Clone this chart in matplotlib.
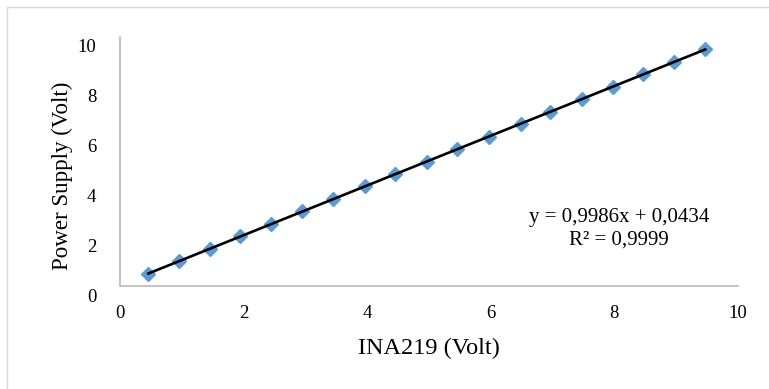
import numpy as np
import matplotlib
matplotlib.use("Agg")
import matplotlib.pyplot as plt
from matplotlib.transforms import ScaledTranslation
from matplotlib.patches import Rectangle

# Data
ina219 = [0.46, 0.96, 1.46, 1.94, 2.45, 2.95, 3.45, 3.96, 4.45, 4.97,
          5.46, 5.97, 6.49, 6.96, 7.47, 7.97, 8.47, 8.96, 9.47]
power_supply = [0.5, 1.0, 1.5, 2.0, 2.5, 3.0, 3.5, 4.0, 4.5, 5.0,
                5.5, 6.0, 6.5, 7.0, 7.5, 8.0, 8.5, 9.0, 9.5]
slope = 0.9986
intercept = 0.0434
r_squared = 0.9999
x_ticks = [0, 2, 4, 6, 8, 10]
y_ticks = [0, 2, 4, 6, 8, 10]
x_label = "INA219 (Volt)"
y_label = "Power Supply (Volt)"
eq_text = "y = 0,9986x + 0,0434\nR² = 0,9999"

plt.rcParams['font.family'] = ['Liberation Serif', 'DejaVu Serif']

W, H = 769, 389
fig = plt.figure(figsize=(W / 100, H / 100), dpi=100)

# outer chart-area border (cropped at right and bottom)
fig.patches.append(Rectangle((7 / W, -0.1), 1.2, 1 - 7 / H + 0.1,
                             transform=fig.transFigure, fill=False,
                             edgecolor='#D9D9D9', linewidth=1.0))

ax = fig.add_axes([120 / W, 1 - 286 / H, (738 - 120) / W, (286 - 37) / H])

ax.plot(ina219, power_supply, linestyle='none', marker='D', markersize=7.6,
        color='#5B9BD5', markeredgecolor='#5B9BD5', zorder=2)

xl = np.array([min(ina219), max(ina219)])
ax.plot(xl, slope * xl + intercept, color='black', linewidth=1.9, zorder=3)

ax.set_xlim(0, 10)
ax.set_ylim(0, 10)
ax.set_xticks(x_ticks)
ax.set_yticks(y_ticks)
ax.set_xticklabels([str(v) for v in x_ticks])
ax.set_yticklabels([str(v) for v in y_ticks])
ax.tick_params(axis='both', length=0, labelsize=13.5, colors='black')
ax.tick_params(axis='x', pad=14)
ax.tick_params(axis='y', pad=17)

for sp in ['top', 'right']:
    ax.spines[sp].set_visible(False)
for sp in ['left', 'bottom']:
    ax.spines[sp].set_color('#BFBFBF')
    ax.spines[sp].set_linewidth(1.3)

# y tick labels sit slightly lower than their ticks in the reference
off = ScaledTranslation(0, -9 / 100, fig.dpi_scale_trans)
for lab in ax.get_yticklabels():
    lab.set_transform(lab.get_transform() + off)

ax.set_xlabel(x_label, fontsize=17.5)
ax.set_ylabel(y_label, fontsize=16.6)
ax.xaxis.set_label_coords(0.5, (286 - 348) / (286 - 37), transform=ax.transAxes)
ax.yaxis.set_label_coords((62 - 120) / (738 - 120), (286 - 176) / (286 - 37))
ax.xaxis.label.set_va('center')
ax.yaxis.label.set_va('center')

ax.text(8.07, 2.3, eq_text, ha='center', va='center', fontsize=15,
        linespacing=1.3)

fig.savefig("out.png", dpi=100)
